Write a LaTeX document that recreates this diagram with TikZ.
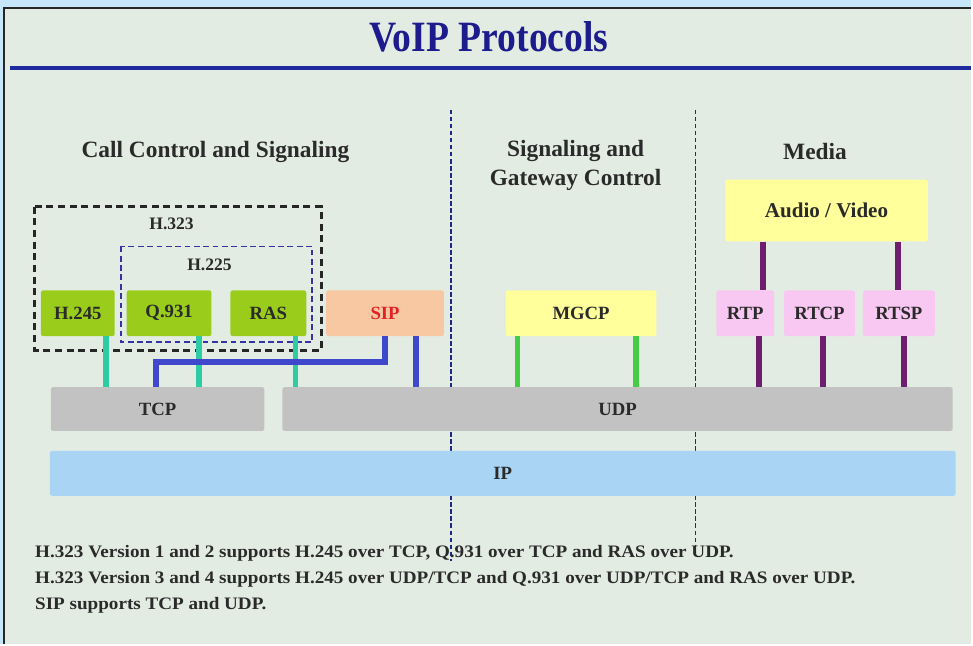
\documentclass[tikz,border=0pt]{standalone}
\usepackage{fontspec}
\setmainfont{Liberation Serif}
\usetikzlibrary{positioning}
\definecolor{outerbg}{HTML}{C8E6FA}
\definecolor{panelbg}{HTML}{E3ECE3}
\definecolor{titleblue}{HTML}{1C1C8C}
\definecolor{ruleblue}{HTML}{1F2A9E}
\definecolor{divblue}{HTML}{1A2A8A}
\definecolor{h323green}{HTML}{9ACC1C}
\definecolor{sipsalmon}{HTML}{F8C8A2}
\definecolor{sipred}{HTML}{E02424}
\definecolor{paleyellow}{HTML}{FFFF9C}
\definecolor{rtppink}{HTML}{F8C8F2}
\definecolor{layergray}{HTML}{C2C2C2}
\definecolor{ipblue}{HTML}{AAD4F4}
\definecolor{tealline}{HTML}{2ECCA4}
\definecolor{sipblue}{HTML}{3F48CC}
\definecolor{mgcpgreen}{HTML}{44CC44}
\definecolor{mediapurple}{HTML}{6E1E6E}
\definecolor{textgray}{HTML}{2A2A2A}
\tikzstyle{proto} = [
  rectangle, rounded corners=2pt, text centered, inner sep=0pt,
  font=\bfseries\fontsize{16}{18}\selectfont, text=textgray,
  minimum height=1.38cm
]
\tikzstyle{hbox} = [proto, fill=h323green]
\tikzstyle{sipbox} = [proto, fill=sipsalmon, text=sipred]
\tikzstyle{ybox} = [proto, fill=paleyellow]
\tikzstyle{pbox} = [proto, fill=rtppink]
\tikzstyle{layer} = [proto, fill=layergray, minimum height=1.32cm]
\tikzstyle{grouplabel} = [font=\bfseries\fontsize{15}{17}\selectfont, text=textgray]
\tikzstyle{heading} = [
  font=\bfseries\fontsize{20}{25}\selectfont, text=textgray, align=center
]
\tikzstyle{note} = [
  anchor=west, font=\bfseries\fontsize{15}{17}\selectfont, text=textgray,
  inner sep=0pt, xscale=1.09
]
\tikzstyle{link} = [line width=5pt]

\begin{document}
\begin{tikzpicture}[x=0.03cm, y=-0.03cm]
    % background and panel
    \fill[outerbg] (0,0) rectangle (973,646);
    \fill[panelbg] (4,8) rectangle (973,646);
    \draw[line width=1.5pt, black!85] (4,646) -- (4,8) -- (973,8);
    \node[font=\bfseries\fontsize{37}{40}\selectfont, text=titleblue, xscale=0.87] (title) at (490,37) {VoIP Protocols};
    \draw[line width=4pt, ruleblue] (10,68) -- (973,68);

    % column dividers
    \draw[divblue, line width=1.2pt, dash pattern=on 4pt off 2pt] (452,110) -- (452,562);
    \draw[divblue, line width=0.8pt, dash pattern=on 4pt off 2pt] (697,110) -- (697,553);

    \node[heading] (callctl) at (216,152) {Call Control and Signaling};
    \node[heading] (sigctl) at (577,166) {Signaling and\\Gateway Control};
    \node[heading] (media) at (817,152) {Media};

    % H.323 / H.225 groups
    \draw[line width=2.5pt, black!85, dash pattern=on 6pt off 4pt] (35,207) rectangle (322,351);
    \node[grouplabel] (h323) at (172,224) {H.323};
    \draw[line width=1.4pt, blue!55!black!80, dash pattern=on 5pt off 3pt] (121,247) rectangle (313,343);
    \node[grouplabel] (h225) at (210,265) {H.225};

    % protocol boxes
    \node[hbox, minimum width=2.22cm] (h245) at (78,314) {H.245};
    \node[hbox, minimum width=2.55cm] (q931) at (169.5,314) {Q.931};
    \node[hbox, minimum width=2.28cm] (ras) at (269,314) {RAS};
    \node[sipbox, minimum width=3.54cm] (sip) at (386,314) {SIP};
    \node[ybox, minimum width=4.53cm] (mgcp) at (582.5,314) {MGCP};
    \node[pbox, minimum width=1.74cm] (rtp) at (747,314) {RTP};
    \node[pbox, minimum width=2.13cm] (rtcp) at (821.5,314) {RTCP};
    \node[pbox, minimum width=2.16cm] (rtsp) at (901,314) {RTSP};
    \node[ybox, minimum width=6.09cm, minimum height=1.86cm, font=\bfseries\fontsize{18}{20}\selectfont] (av) at (828.5,211) {Audio / Video};

    % transport and network
    \node[layer, minimum width=6.42cm] (tcp) at (158,410) {TCP};
    \node[layer, minimum width=20.16cm] (udp) at (619,410) {UDP};
    \node[layer, fill=ipblue, minimum width=27.24cm, minimum height=1.35cm] (ip) at (504,474.5) {IP};

    % H.323 links
    \draw[link, tealline] ([xshift=-0.27cm]h245.south east) -- ([xshift=-0.27cm]h245.south east |- tcp.north);
    \draw[link, tealline] ([xshift=-0.39cm]q931.south east) -- ([xshift=-0.39cm]q931.south east |- tcp.north);
    \draw[link, tealline] ([xshift=-0.33cm]ras.south east) -- ([xshift=-0.33cm]ras.south east |- udp.north);
    % SIP links
    \draw[link, sipblue] (sip.south) |- ([xshift=-0.06cm, yshift=0.75cm]tcp.north) -- ([xshift=-0.06cm]tcp.north);
    \draw[link, sipblue] ([xshift=-0.84cm]sip.south east) -- ([xshift=-0.84cm]sip.south east |- udp.north);
    % MGCP links
    \draw[link, mgcpgreen] ([xshift=0.36cm]mgcp.south west) -- ([xshift=0.36cm]mgcp.south west |- udp.north);
    \draw[link, mgcpgreen] ([xshift=-0.63cm]mgcp.south east) -- ([xshift=-0.63cm]mgcp.south east |- udp.north);
    % media links
    \draw[link, mediapurple] ([xshift=1.14cm]av.south west) -- ([xshift=1.14cm]av.south west |- rtp.north);
    \draw[link, mediapurple] ([xshift=-0.9cm]av.south east) -- ([xshift=-0.9cm]av.south east |- rtsp.north);
    \draw[link, mediapurple] ([xshift=0.42cm]rtp.south) -- ([xshift=0.42cm]rtp.south |- udp.north);
    \draw[link, mediapurple] ([xshift=0.1cm]rtcp.south) -- ([xshift=0.1cm]rtcp.south |- udp.north);
    \draw[link, mediapurple] ([xshift=0.15cm]rtsp.south) -- ([xshift=0.15cm]rtsp.south |- udp.north);

    % notes
    \node[note] (note1) at (35,555) {H.323 Version 1 and 2 supports H.245 over TCP, Q.931 over TCP and RAS over UDP.};
    \node[note] (note2) at (35,581) {H.323 Version 3 and 4 supports H.245 over UDP/TCP and Q.931 over UDP/TCP and RAS over UDP.};
    \node[note] (note3) at (35,607) {SIP supports TCP and UDP.};
\end{tikzpicture}
\end{document}
